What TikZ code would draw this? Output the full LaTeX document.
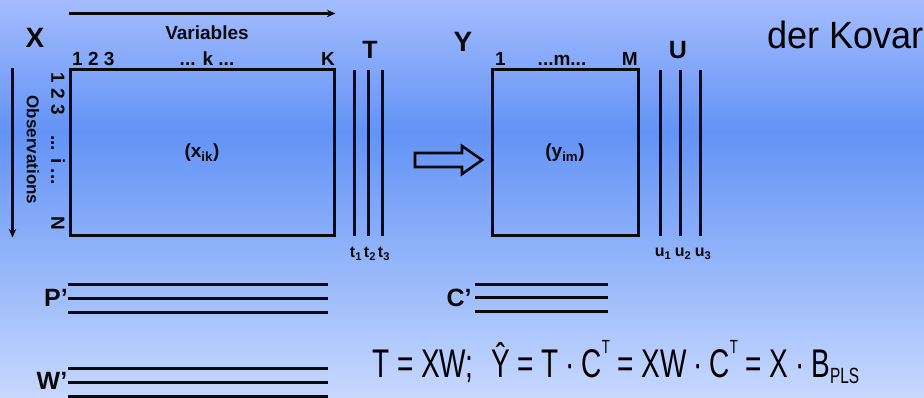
\documentclass[tikz,border=0pt]{standalone}
\usepackage{fontspec}
\setmainfont{Liberation Sans}
\newfontfamily\narrowfont[FakeStretch=0.70]{Liberation Sans}
\newfontfamily\covfont[FakeStretch=0.95]{Liberation Sans}
\usetikzlibrary{
  arrows.meta,
  positioning,
  calc
}
\definecolor{plsTop}{HTML}{A4BCFE}
\definecolor{plsMid}{HTML}{6393F6}
\definecolor{plsBot}{HTML}{C7D8FE}
\definecolor{plsInk}{HTML}{0A0A0A}
\tikzset{
  matbox/.style={
    draw=plsInk, line width=3pt, inner sep=0pt,
    font=\fontsize{19}{21}\selectfont\bfseries, text=plsInk
  },
  vecline/.style={draw=plsInk, line width=3pt},
  axisarrow/.style={-{Stealth[length=3mm, width=2.6mm]}, line width=2.2pt, plsInk},
  hollowarrow/.style={draw=plsInk, line width=2.6pt, line join=miter},
  biglbl/.style={font=\fontsize{28}{30}\selectfont\bfseries, inner sep=0pt, text=plsInk},
  midlbl/.style={font=\fontsize{25}{27}\selectfont\bfseries, inner sep=0pt, text=plsInk},
  collbl/.style={font=\fontsize{19}{21}\selectfont\bfseries, inner sep=0pt, text=plsInk},
  sublbl/.style={font=\fontsize{16}{18}\selectfont\bfseries, inner sep=0pt, text=plsInk},
  obslbl/.style={font=\fontsize{17}{19}\selectfont\bfseries, inner sep=0pt, text=plsInk, rotate=-90},
  eqn/.style={font=\narrowfont\fontsize{40}{42}\selectfont, inner sep=0pt, text=black},
  covtext/.style={font=\covfont\fontsize{38}{40}\selectfont, inner sep=0pt, text=black}
}

\begin{document}
\begin{tikzpicture}[x=1pt, y=-1pt]
  % background
  \shade[top color=plsTop, bottom color=plsMid] (0,0) rectangle (924,132);
  \shade[top color=plsMid, bottom color=plsBot] (0,132) rectangle (924,398);
  \useasboundingbox (0,0) rectangle (924,398);

  % data matrices
  \node[matbox, minimum width=264, minimum height=166] (X) at (202,153) {(x\textsubscript{ik})};
  \node[matbox, minimum width=146, minimum height=166] (Y) at (565,153) {(y\textsubscript{im})};

  % X labels
  \node[biglbl] (xname) at (35,38) {X};
  \node[collbl] (vars) at (207,33) {Variables};
  \node[collbl, anchor=south west] (xcols) at (72,66) {1 2 3};
  \node[collbl, anchor=south] (xk) at (207,66) {... k ...};
  \node[collbl, anchor=south east] (xK) at (335,66) {K};
  \node[obslbl] (obs) at (33,150) {Observations};
  \node[collbl, rotate=-90] (xrows) at (58,94) {1 2 3};
  \node[collbl, rotate=-90] (xi) at (58,160) {... i ...};
  \node[collbl, rotate=-90] (xN) at (58,223) {N};
  \draw[axisarrow] ([yshift=55pt]X.north west) -- ([yshift=55pt]X.north east);
  \draw[axisarrow] ([xshift=-56pt]X.north west) -- ([xshift=-56pt]X.south west);

  % X scores
  \node[midlbl] (tname) at (370,50) {T};
  \draw[vecline] (354,70) -- (354,236);
  \draw[vecline] (368,70) -- (368,236);
  \draw[vecline] (382,70) -- (382,236);
  \node[sublbl] (t1) at (356,254) {t\textsubscript{1}};
  \node[sublbl] (t2) at (370,254) {t\textsubscript{2}};
  \node[sublbl] (t3) at (384,254) {t\textsubscript{3}};

  % block arrow
  \draw[hollowarrow] (415,153) -- (462,153) -- (462,146) -- (482,160)
    -- (462,174) -- (462,167) -- (415,167) -- cycle;

  % Y labels
  \node[biglbl] (yname) at (463,42) {Y};
  \node[collbl, anchor=south west] (ycols) at (495,66) {1};
  \node[collbl, anchor=south] (ym) at (562,66) {...m...};
  \node[collbl, anchor=south east] (yM) at (638,66) {M};

  % Y scores
  \node[midlbl] (uname) at (678,50) {U};
  \draw[vecline] (660,70) -- (660,236);
  \draw[vecline] (680,70) -- (680,236);
  \draw[vecline] (700,70) -- (700,236);
  \node[sublbl] (u1) at (663,254) {u\textsubscript{1}};
  \node[sublbl] (u2) at (683,254) {u\textsubscript{2}};
  \node[sublbl] (u3) at (703,254) {u\textsubscript{3}};

  % loadings and weights
  \node[midlbl] (pname) at (56,298) {P'};
  \draw[vecline] (68,284) -- (328,284);
  \draw[vecline] (68,298) -- (328,298);
  \draw[vecline] (68,312) -- (328,312);
  \node[midlbl] (wname) at (52,381) {W'};
  \draw[vecline] (68,368) -- (328,368);
  \draw[vecline] (68,382) -- (328,382);
  \draw[vecline] (68,396) -- (328,396);
  \node[midlbl] (cname) at (459,298) {C'};
  \draw[vecline] (475,284) -- (608,284);
  \draw[vecline] (475,297) -- (608,297);
  \draw[vecline] (475,311) -- (608,311);

  % text
  \node[covtext, anchor=base west] (cov) at (767,49) {der Kovar};
  \node[eqn, anchor=base west] (pls) at (372,377)
    {T = XW;\hspace{0.25em} Ŷ = T\,·\,C\raisebox{1.1ex}{\fontsize{19}{19}\selectfont T} = XW\,·\,C\raisebox{1.1ex}{\fontsize{19}{19}\selectfont T} = X\,·\,B\raisebox{-0.3ex}{\fontsize{22}{22}\selectfont PLS}};
\end{tikzpicture}
\end{document}
